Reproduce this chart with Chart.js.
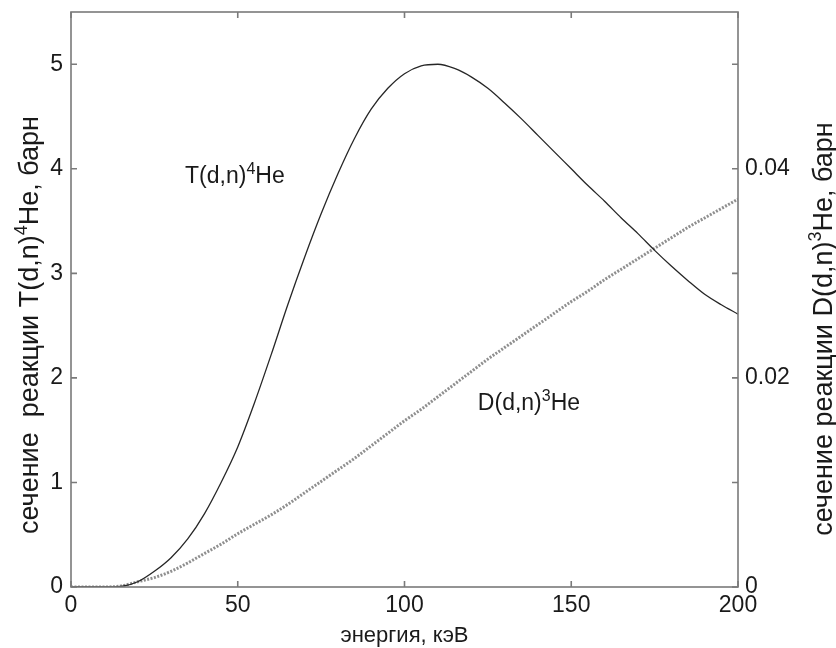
<!DOCTYPE html>
<html>
<head>
<meta charset="utf-8">
<script src="https://cdn.jsdelivr.net/npm/chart.js@4.4.0/dist/chart.umd.min.js"></script>
<style>
    html, body { margin: 0; padding: 0; background: #fff; }
    #wrap { width: 836px; height: 648px; }
</style>
</head>
<body>
<div id="wrap"><canvas id="sigmaChart" width="836" height="648"></canvas></div>
<script>
// энергия дейтрона, кэВ
const energy = [0, 5, 10, 15, 20, 25, 30, 35, 40, 45, 50, 55, 60, 65, 70, 75, 80, 85, 90, 95,
    100, 105, 110, 115, 120, 125, 130, 135, 140, 145, 150, 155, 160, 165, 170, 175, 180, 185, 190, 195, 200];

// T(d,n)4He, барн (левая ось)
const sigmaDT = [0, 0, 0, 0.005, 0.05, 0.15, 0.28, 0.46, 0.70, 1.00, 1.34, 1.76, 2.22, 2.70, 3.15, 3.57, 3.95, 4.29, 4.57, 4.77,
    4.91, 4.985, 5.00, 4.96, 4.88, 4.77, 4.63, 4.48, 4.32, 4.16, 4.00, 3.84, 3.69, 3.53, 3.38, 3.22, 3.07, 2.93, 2.80, 2.70, 2.61];

// D(d,n)3He, барн (правая ось)
const sigmaDD = [0, 0, 0, 0.0001, 0.0005, 0.0009, 0.0015, 0.0023, 0.0032, 0.0041, 0.0051, 0.0060, 0.0069, 0.0079, 0.0090, 0.0101, 0.0112, 0.0123, 0.0135, 0.0147,
    0.0159, 0.0170, 0.0182, 0.0194, 0.0206, 0.0218, 0.0229, 0.0240, 0.0251, 0.0262, 0.0273, 0.0283, 0.0294, 0.0304, 0.0314, 0.0324, 0.0334, 0.0344, 0.0353, 0.0362, 0.0371];

const xTicks = [0, 50, 100, 150, 200];
const leftTicks = [0, 1, 2, 3, 4, 5];
const rightLabels = [0, 0.02, 0.04];

const xTitle = [{ t: 'энергия, кэВ' }];
const leftTitle = [{ t: 'сечение  реакции T(d,n)' }, { t: '4', sup: true }, { t: 'He, барн' }];
const rightTitle = [{ t: 'сечение реакции D(d,n)' }, { t: '3', sup: true }, { t: 'He, барн' }];

// подписи кривых: [энергия, значение по левой оси]
const labelDT = { at: [34.2, 3.86], parts: [{ t: 'T(d,n)' }, { t: '4', sup: true }, { t: 'He' }] };
const labelDD = { at: [122, 1.69], parts: [{ t: 'D(d,n)' }, { t: '3', sup: true }, { t: 'He' }] };

const FONT = '"Liberation Sans", Arial, sans-serif';
const TEXT = '#1a1a1a';
const FRAME = '#7a7a7a';

function richWidth(ctx, parts, size) {
    let w = 0;
    parts.forEach(p => {
        ctx.font = (p.sup ? Math.round(size * 0.68) : size) + 'px ' + FONT;
        w += ctx.measureText(p.t).width;
    });
    return w;
}

// x,y - точка базовой линии; align 'left' или 'center'
function drawRich(ctx, parts, x, y, size, align, rot) {
    ctx.save();
    ctx.translate(x, y);
    ctx.rotate(rot || 0);
    ctx.fillStyle = TEXT;
    ctx.textBaseline = 'alphabetic';
    ctx.textAlign = 'left';
    let cx = align === 'center' ? -richWidth(ctx, parts, size) / 2 : 0;
    parts.forEach(p => {
        const s = p.sup ? Math.round(size * 0.68) : size;
        ctx.font = s + 'px ' + FONT;
        ctx.fillText(p.t, cx, p.sup ? -size * 0.42 : 0);
        cx += ctx.measureText(p.t).width;
    });
    ctx.restore();
}

const framePlugin = {
    id: 'framePlugin',
    afterDraw(chart) {
        const ctx = chart.ctx;
        const a = chart.chartArea;
        const xs = chart.scales.x;
        const ys = chart.scales.y;
        const tick = 6;

        ctx.save();
        ctx.strokeStyle = FRAME;
        ctx.lineWidth = 1.6;
        ctx.strokeRect(a.left, a.top, a.right - a.left, a.bottom - a.top);

        ctx.beginPath();
        xTicks.forEach(v => {
            const px = xs.getPixelForValue(v);
            ctx.moveTo(px, a.bottom); ctx.lineTo(px, a.bottom - tick);
            ctx.moveTo(px, a.top); ctx.lineTo(px, a.top + tick);
        });
        leftTicks.forEach(v => {
            const py = ys.getPixelForValue(v);
            ctx.moveTo(a.left, py); ctx.lineTo(a.left + tick, py);
            ctx.moveTo(a.right, py); ctx.lineTo(a.right - tick, py);
        });
        ctx.stroke();
        ctx.restore();

        // заголовки осей
        drawRich(ctx, xTitle, (a.left + a.right) / 2, 642, 22, 'center');
        drawRich(ctx, leftTitle, 38, 325, 27, 'center', -Math.PI / 2);
        drawRich(ctx, rightTitle, 832, 329, 27, 'center', -Math.PI / 2);

        // подписи кривых
        [labelDT, labelDD].forEach(l => {
            drawRich(ctx, l.parts, xs.getPixelForValue(l.at[0]), ys.getPixelForValue(l.at[1]), 23, 'left');
        });
    }
};

const tickFont = { family: FONT, size: 23 };

function noPadV(s) { s.paddingTop = 0; s.paddingBottom = 0; }

new Chart(document.getElementById('sigmaChart'), {
    type: 'line',
    data: {
        datasets: [
            {
                label: 'T(d,n)4He',
                data: energy.map((e, i) => ({ x: e, y: sigmaDT[i] })),
                yAxisID: 'y',
                borderColor: '#262626',
                borderWidth: 1.3,
                pointRadius: 0,
                cubicInterpolationMode: 'monotone',
                fill: false
            },
            {
                label: 'D(d,n)3He',
                data: energy.map((e, i) => ({ x: e, y: sigmaDD[i] })),
                yAxisID: 'y2',
                borderColor: '#8f8f8f',
                borderWidth: 3,
                borderDash: [2, 1.5],
                pointRadius: 0,
                cubicInterpolationMode: 'monotone',
                fill: false
            }
        ]
    },
    options: {
        responsive: false,
        animation: false,
        layout: { padding: { top: 12, left: 0, right: 0, bottom: 0 } },
        plugins: {
            legend: { display: false },
            tooltip: { enabled: false }
        },
        scales: {
            x: {
                type: 'linear',
                min: 0,
                max: 200,
                afterFit: s => { s.height = 61; s.paddingLeft = 0; s.paddingRight = 0; },
                afterBuildTicks: s => { s.ticks = xTicks.map(v => ({ value: v })); },
                ticks: { font: tickFont, color: TEXT, padding: 5, maxRotation: 0 },
                grid: { display: false, drawTicks: false },
                border: { display: false }
            },
            y: {
                position: 'left',
                min: 0,
                max: 5.5,
                afterFit: s => { s.width = 71; noPadV(s); },
                afterBuildTicks: s => { s.ticks = leftTicks.map(v => ({ value: v })); },
                ticks: { font: tickFont, color: TEXT, padding: 8 },
                grid: { display: false, drawTicks: false },
                border: { display: false }
            },
            y2: {
                position: 'right',
                min: 0,
                max: 0.055,
                afterFit: s => { s.width = 98; noPadV(s); },
                afterBuildTicks: s => { s.ticks = rightLabels.map(v => ({ value: v })); },
                ticks: {
                    font: tickFont, color: TEXT, padding: 7,
                    callback: v => (v === 0 ? '0' : v.toFixed(2))
                },
                grid: { display: false, drawTicks: false },
                border: { display: false }
            }
        }
    },
    plugins: [framePlugin]
});
</script>
</body>
</html>
